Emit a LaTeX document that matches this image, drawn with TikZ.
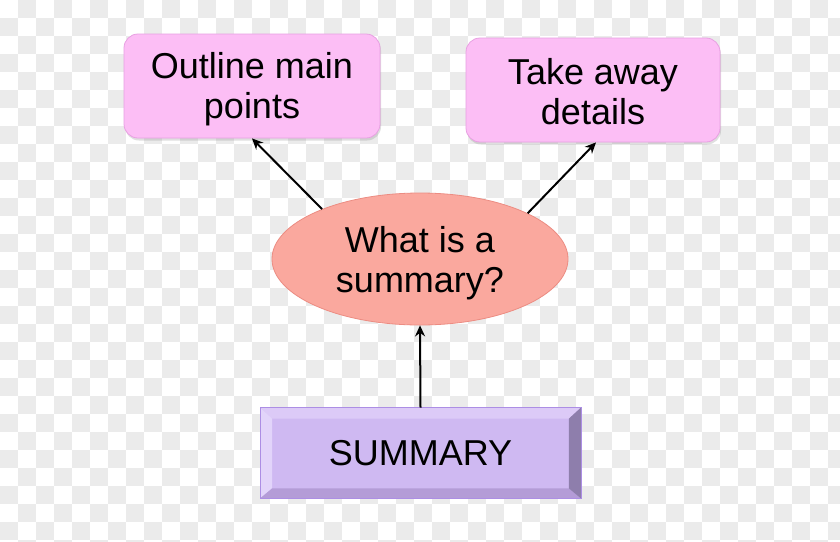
\documentclass[tikz,border=0pt]{standalone}
\usepackage{fontspec}
\setmainfont{Liberation Sans}
\usetikzlibrary{shapes.geometric,arrows.meta,shadows}
\definecolor{chk}{RGB}{235,235,235}
\definecolor{pinkfill}{RGB}{252,190,245}
\definecolor{pinkline}{RGB}{232,160,226}
\definecolor{salmonfill}{RGB}{250,168,158}
\definecolor{salmonline}{RGB}{236,140,130}
\definecolor{lavface}{RGB}{207,185,242}
\definecolor{lavtop}{RGB}{220,202,247}
\definecolor{lavleft}{RGB}{226,212,250}
\definecolor{lavbottom}{RGB}{180,156,215}
\definecolor{lavright}{RGB}{142,126,172}
\definecolor{lavline}{RGB}{172,142,228}
\tikzset{
  txt/.style={align=center, font=\fontsize{36}{40}\selectfont, text=black, inner sep=0pt},
  pinkbox/.style={draw=pinkline, line width=0.8pt, fill=pinkfill, rounded corners=14pt,
    minimum width=256pt, minimum height=104pt,
    drop shadow={shadow xshift=1pt, shadow yshift=-2.5pt, opacity=0.25}},
  oval/.style={ellipse, draw=salmonline, line width=0.8pt, fill=salmonfill,
    minimum width=296pt, minimum height=132pt},
  bevelbox/.style={draw=lavline, line width=0.8pt, fill=lavface,
    minimum width=320pt, minimum height=90pt},
  conn/.style={line width=2pt, draw=black, -{Stealth[length=11pt,width=10pt]}}
}
\begin{document}
\begin{tikzpicture}[x=1pt,y=-1pt]
\useasboundingbox (0,0) rectangle (840,541);
\fill[white] (0,0) rectangle (840,541);
\begin{scope}
\clip (0,0) rectangle (840,541);
\foreach \i in {0,...,46}{\foreach \j in {0,...,30}{%
  \pgfmathtruncatemacro\k{\i+\j}%
  \ifodd\k \fill[chk] (\i*18,\j*18) rectangle ++(18,18);\fi}}
\end{scope}

\node[pinkbox, label={[txt, yshift=-3.5pt]center:{Outline main\\points}}] (outline) at (252,86) {};
\node[pinkbox, minimum width=254pt, label={[txt, yshift=-2pt]center:{Take away\\details}}] (take) at (593,90) {};
\node[oval, label={[txt, yshift=-4pt]center:{What is a\\summary?}}] (what) at (420,259) {};
\node[bevelbox] (sum) at (420.5,453) {};

% bevel
\fill[lavtop] (sum.north west) -- (sum.north east) -- ([shift={(-12,11)}]sum.north east) -- ([shift={(12,11)}]sum.north west) -- cycle;
\fill[lavleft] (sum.north west) -- ([shift={(12,11)}]sum.north west) -- ([shift={(12,-10)}]sum.south west) -- (sum.south west) -- cycle;
\fill[lavbottom] (sum.south west) -- ([shift={(12,-10)}]sum.south west) -- ([shift={(-12,-10)}]sum.south east) -- (sum.south east) -- cycle;
\fill[lavright] (sum.north east) -- (sum.south east) -- ([shift={(-12,-10)}]sum.south east) -- ([shift={(-12,11)}]sum.north east) -- cycle;
\draw[lavline, line width=0.8pt] (sum.north west) rectangle (sum.south east);
\node[txt] (sumtext) at (sum.center) {SUMMARY};

\draw[conn] (what.153) -- (outline.south);
\draw[conn] (what.23) -- ([xshift=3pt]take.south);
\draw[conn] (sum.north) -- (what.south);
\end{tikzpicture}
\end{document}
